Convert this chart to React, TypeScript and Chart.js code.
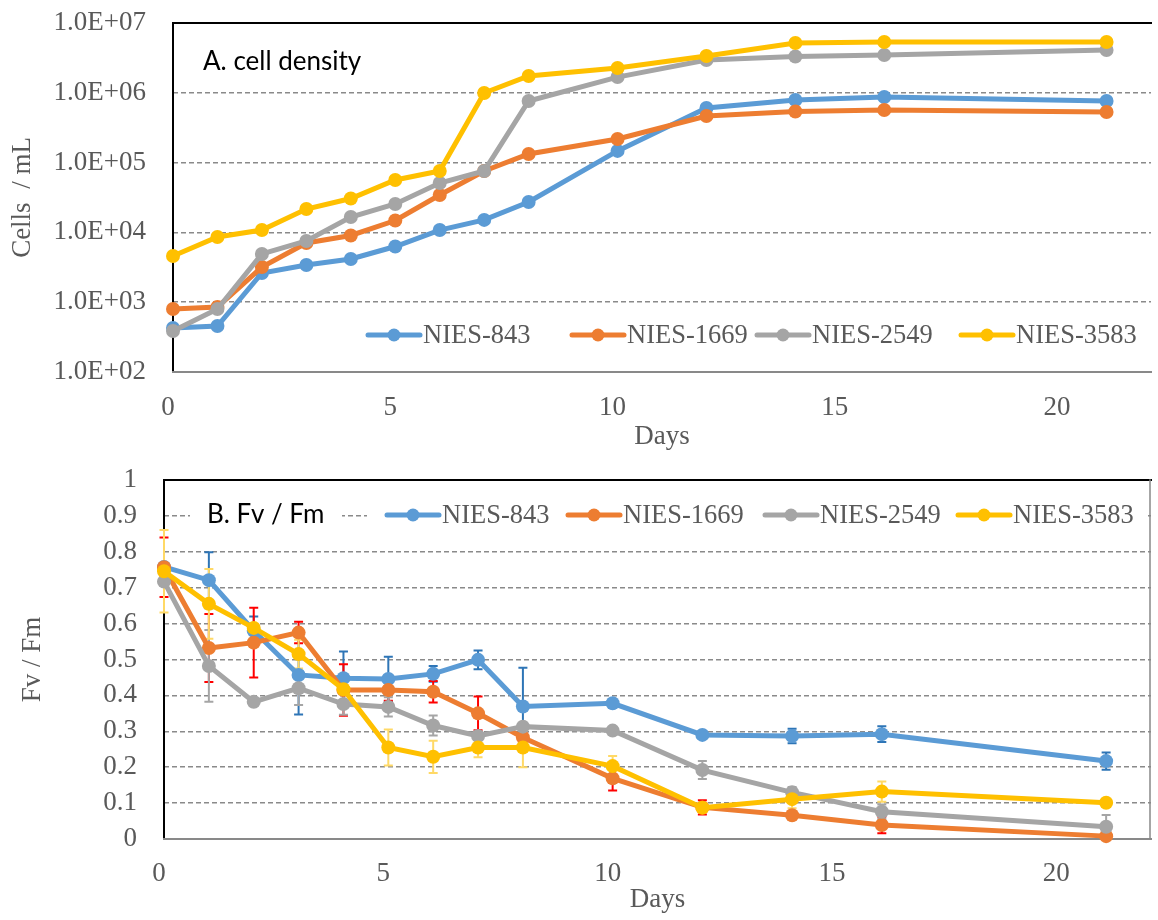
import React, { useEffect, useRef } from "react";
import { Chart, registerables } from "chart.js";

Chart.register(...registerables);

// ---------- data ----------
const days = [0, 1, 2, 3, 4, 5, 6, 7, 8, 10, 12, 14, 16, 21];
const seriesNames = ["NIES-843", "NIES-1669", "NIES-2549", "NIES-3583"];
const seriesColors = ["#5B9BD5", "#ED7D31", "#A5A5A5", "#FFC000"];
const errorColors = ["#2E75B6", "#FF0000", "#A5A5A5", "#FFD966"];

// A. cell density (cells / mL)
const density843 = [427, 456, 2620, 3410, 4160, 6280, 10800, 15100, 27300, 147000, 606000, 789000, 871000, 763000];
const density1669 = [800, 853, 3190, 7050, 9030, 14800, 34300, 75800, 133000, 218000, 465000, 540000, 567000, 531000];
const density2549 = [387, 800, 4910, 7530, 16600, 25500, 51000, 75800, 763000, 1680000, 2950000, 3310000, 3480000, 4100000];
const density3583 = [4590, 8590, 10800, 21600, 30600, 56300, 75800, 994000, 1740000, 2270000, 3370000, 5170000, 5350000, 5350000];

// B. Fv / Fm
const fvfm843 = [0.758, 0.721, 0.58, 0.457, 0.448, 0.446, 0.46, 0.499, 0.369, 0.378, 0.29, 0.287, 0.292, 0.217];
const fvfm1669 = [0.757, 0.532, 0.547, 0.575, 0.415, 0.415, 0.41, 0.35, 0.283, 0.169, 0.088, 0.066, 0.039, 0.008];
const fvfm2549 = [0.717, 0.482, 0.382, 0.42, 0.376, 0.368, 0.316, 0.287, 0.313, 0.302, 0.192, 0.13, 0.076, 0.034];
const fvfm3583 = [0.746, 0.655, 0.588, 0.515, 0.417, 0.255, 0.229, 0.255, 0.255, 0.203, 0.087, 0.111, 0.132, 0.101];

// error bars (± SD)
const err843 = [0.01, 0.078, 0.04, 0.11, 0.074, 0.062, 0.022, 0.026, 0.108, 0.01, 0.008, 0.02, 0.022, 0.024];
const err1669 = [0.083, 0.095, 0.097, 0.03, 0.072, 0.03, 0.03, 0.047, 0.01, 0.034, 0.02, 0.01, 0.023, 0.005];
const err2549 = [0.01, 0.1, 0.01, 0.047, 0.03, 0.027, 0.028, 0.01, 0.01, 0.01, 0.025, 0.015, 0.02, 0.033];
const err3583 = [0.115, 0.097, 0.01, 0.04, 0.01, 0.05, 0.045, 0.027, 0.055, 0.028, 0.01, 0.025, 0.028, 0.01];

const xTicks = [0, 5, 10, 15, 20];
const densityTicks = [1e2, 1e3, 1e4, 1e5, 1e6, 1e7];
const fvfmTicks = [0, 0.1, 0.2, 0.3, 0.4, 0.5, 0.6, 0.7, 0.8, 0.9, 1];

const densitySeries = [density843, density1669, density2549, density3583];
const fvfmSeries = [fvfm843, fvfm1669, fvfm2549, fvfm3583];
const errSeries = [err843, err1669, err2549, err3583];

// ---------- styling ----------
const SERIF = "'Liberation Serif', 'Times New Roman', serif";
const SANS = "Lato, 'Open Sans', sans-serif";
const TEXT_GRAY = "#595959";
const GRID = "#8a8a8a";

function fmtExp(v: number): string {
  const e = Math.floor(Math.log10(v) + 1e-9);
  const m = v / Math.pow(10, e);
  return m.toFixed(1) + "E+" + String(e).padStart(2, "0");
}

function makeDatasets(series: number[][], errs?: number[][]) {
  return series.map((vals, i) => ({
    label: seriesNames[i],
    data: days.map((d, j) => ({ x: d, y: vals[j] })),
    errors: errs ? errs[i] : undefined,
    errorColor: errorColors[i],
    borderColor: seriesColors[i],
    backgroundColor: seriesColors[i],
    pointBackgroundColor: seriesColors[i],
    pointBorderColor: seriesColors[i],
    pointBorderWidth: 0,
    pointRadius: 7,
    borderWidth: 5,
    tension: 0,
    clip: false,
    order: 4 - i,
  }));
}

function framePlugin(rightBorder: boolean) {
  return {
    id: "frame",
    beforeDatasetsDraw(chart: any) {
      const { ctx, chartArea: a } = chart;
      ctx.save();
      ctx.lineCap = "square";
      ctx.strokeStyle = "#000";
      ctx.lineWidth = 2;
      ctx.beginPath();
      ctx.moveTo(a.left, a.bottom);
      ctx.lineTo(a.left, a.top);
      ctx.lineTo(a.right, a.top);
      ctx.stroke();
      ctx.strokeStyle = "#898989";
      ctx.beginPath();
      ctx.moveTo(a.left, a.bottom);
      ctx.lineTo(a.right, a.bottom);
      ctx.stroke();
      if (rightBorder) {
        ctx.lineWidth = 1.5;
        ctx.beginPath();
        ctx.moveTo(a.right - 1, a.top);
        ctx.lineTo(a.right - 1, a.bottom);
        ctx.stroke();
      }
      ctx.restore();
    },
  };
}

const errorBarPlugin = {
  id: "errorBars",
  beforeDatasetsDraw(chart: any) {
    const { ctx } = chart;
    const xs = chart.scales.x;
    const ys = chart.scales.y;
    ctx.save();
    chart.data.datasets.forEach((ds: any) => {
      if (!ds.errors) return;
      ctx.strokeStyle = ds.errorColor;
      ctx.lineWidth = 2;
      ds.data.forEach((p: any, j: number) => {
        const e = ds.errors[j];
        const px = xs.getPixelForValue(p.x);
        const y1 = ys.getPixelForValue(p.y + e);
        const y2 = ys.getPixelForValue(Math.max(0, p.y - e));
        ctx.beginPath();
        ctx.moveTo(px, y1);
        ctx.lineTo(px, y2);
        ctx.moveTo(px - 4.5, y1);
        ctx.lineTo(px + 4.5, y1);
        ctx.moveTo(px - 4.5, y2);
        ctx.lineTo(px + 4.5, y2);
        ctx.stroke();
      });
    });
    ctx.restore();
  },
};

function overlayPlugin(cfg: {
  legendY: number;
  starts: number[];
  label: string;
  labelX: number;
  labelY: number;
  boxes: number[][];
}) {
  return {
    id: "overlay",
    afterDatasetsDraw(chart: any) {
      const { ctx } = chart;
      ctx.save();
      ctx.fillStyle = "#fff";
      cfg.boxes.forEach((b) => ctx.fillRect(b[0], b[1], b[2], b[3]));
      // panel label
      ctx.fillStyle = "#000";
      ctx.font = `26px ${SANS}`;
      ctx.textBaseline = "middle";
      ctx.textAlign = "left";
      ctx.fillText(cfg.label, cfg.labelX, cfg.labelY);
      // legend
      ctx.font = `26.5px ${SERIF}`;
      chart.data.datasets.forEach((ds: any, i: number) => {
        const x0 = cfg.starts[i];
        const y = cfg.legendY;
        ctx.strokeStyle = ds.borderColor;
        ctx.lineWidth = 5;
        ctx.lineCap = "round";
        ctx.beginPath();
        ctx.moveTo(x0, y);
        ctx.lineTo(x0 + 52, y);
        ctx.stroke();
        ctx.fillStyle = ds.borderColor;
        ctx.beginPath();
        ctx.arc(x0 + 26, y, 6.5, 0, Math.PI * 2);
        ctx.fill();
        ctx.fillStyle = TEXT_GRAY;
        ctx.fillText(ds.label, x0 + 55, y + 1);
      });
      ctx.restore();
    },
  };
}

function xScale(tickPad: number, titlePad: number, height: number) {
  return {
    type: "linear",
    min: 0,
    max: 22,
    afterBuildTicks: (s: any) => {
      s.ticks = xTicks.map((v) => ({ value: v }));
    },
    afterFit: (s: any) => {
      s.height = height;
    },
    grid: { display: false, drawTicks: false },
    border: { display: false },
    ticks: {
      font: { family: SERIF, size: 27 },
      color: TEXT_GRAY,
      padding: tickPad,
      labelOffset: -5,
      maxRotation: 0,
      autoSkip: false,
    },
    title: {
      display: true,
      text: "Days",
      font: { family: SERIF, size: 27 },
      color: TEXT_GRAY,
      padding: { top: 0, bottom: titlePad },
    },
  };
}

function yFit(width: number) {
  return (s: any) => {
    s.width = width;
    s.paddingTop = 0;
    s.paddingBottom = 0;
  };
}

export default function App() {
  const topRef = useRef<HTMLCanvasElement>(null);
  const botRef = useRef<HTMLCanvasElement>(null);

  useEffect(() => {
    const top = new Chart(topRef.current as HTMLCanvasElement, {
      type: "line",
      data: { datasets: makeDatasets(densitySeries) as any },
      options: {
        animation: false,
        responsive: false,
        maintainAspectRatio: false,
        layout: { padding: { left: 0, right: 0, top: 23, bottom: 0 } },
        plugins: { legend: { display: false }, tooltip: { enabled: false } },
        scales: {
          x: xScale(20, 2, 83) as any,
          y: {
            type: "logarithmic",
            min: 100,
            max: 1e7,
            afterBuildTicks: (s: any) => {
              s.ticks = densityTicks.map((v) => ({ value: v }));
            },
            afterFit: yFit(173),
            grid: {
              drawTicks: false,
              lineWidth: 1.5,
              color: (c: any) =>
                c.tick && (c.tick.value === 1e2 || c.tick.value === 1e7) ? "rgba(0,0,0,0)" : GRID,
            },
            border: { display: false, dash: [5, 3] },
            ticks: {
              callback: (v: any) => fmtExp(Number(v)),
              font: { family: SERIF, size: 27 },
              color: TEXT_GRAY,
              padding: 27,
              autoSkip: false,
            },
            title: {
              display: true,
              text: "Cells  / mL",
              font: { family: SERIF, size: 27 },
              color: TEXT_GRAY,
              padding: { top: 7, bottom: 0 },
            },
          },
        },
      },
      plugins: [
        framePlugin(false),
        overlayPlugin({
          legendY: 335,
          starts: [368, 572, 757, 961],
          label: "A. cell density",
          labelX: 203,
          labelY: 62,
          boxes: [],
        }),
      ],
    });

    const bot = new Chart(botRef.current as HTMLCanvasElement, {
      type: "line",
      data: { datasets: makeDatasets(fvfmSeries, errSeries) as any },
      options: {
        animation: false,
        responsive: false,
        maintainAspectRatio: false,
        layout: { padding: { left: 0, right: 1, top: 25, bottom: 0 } },
        plugins: { legend: { display: false }, tooltip: { enabled: false } },
        scales: {
          x: xScale(19, 4, 81) as any,
          y: {
            type: "linear",
            min: 0,
            max: 1,
            afterBuildTicks: (s: any) => {
              s.ticks = fvfmTicks.map((v) => ({ value: v }));
            },
            afterFit: yFit(164),
            grid: {
              drawTicks: false,
              lineWidth: 1.5,
              color: (c: any) =>
                c.tick && (c.tick.value <= 0.001 || c.tick.value >= 0.999) ? "rgba(0,0,0,0)" : GRID,
            },
            border: { display: false, dash: [5, 3] },
            ticks: {
              callback: (v: any) => String(Math.round(Number(v) * 10) / 10),
              font: { family: SERIF, size: 27 },
              color: TEXT_GRAY,
              padding: 27,
              autoSkip: false,
            },
            title: {
              display: true,
              text: "Fv / Fm",
              font: { family: SERIF, size: 27 },
              color: TEXT_GRAY,
              padding: { top: 17, bottom: 0 },
            },
          },
        },
      },
      plugins: [
        framePlugin(true),
        errorBarPlugin,
        overlayPlugin({
          legendY: 60,
          starts: [387, 568, 765, 958],
          label: "B. Fv / Fm",
          labelX: 207,
          labelY: 60,
          boxes: [
            [190, 45, 152, 30],
            [367, 45, 780, 30],
          ],
        }),
      ],
    });

    return () => {
      top.destroy();
      bot.destroy();
    };
  }, []);

  return (
    <div style={{ position: "fixed", left: 0, top: 0, width: 1158, height: 920, background: "#fff" }}>
      <canvas ref={topRef} width={1158} height={455} style={{ position: "absolute", left: 0, top: 0 }} />
      <canvas ref={botRef} width={1158} height={465} style={{ position: "absolute", left: 0, top: 455 }} />
    </div>
  );
}
